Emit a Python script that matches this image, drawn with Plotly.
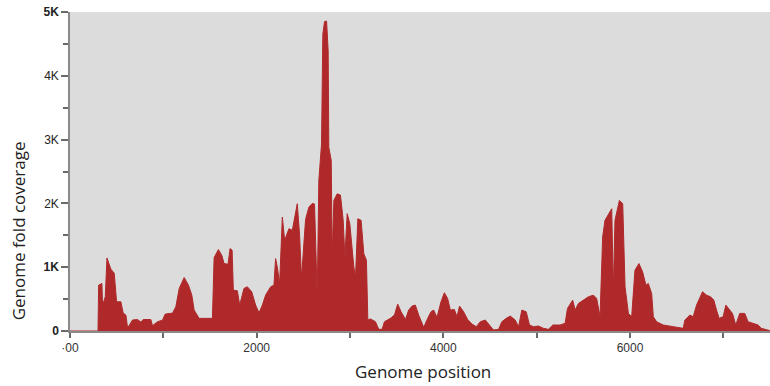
import plotly.graph_objects as go

# Genome position (nt) and fold coverage
position = [0, 300, 307, 342, 349, 378, 396, 438, 474, 499, 545, 570, 599, 617, 670, 724, 759, 784,
            866, 884, 938, 991, 1020, 1098, 1134, 1170, 1223, 1269, 1305, 1330, 1383, 1526, 1544,
            1590, 1626, 1651, 1693, 1715, 1737, 1750, 1793, 1818, 1864, 1900, 1947, 1989, 2025,
            2061, 2096, 2150, 2185, 2203, 2221, 2246, 2275, 2300, 2346, 2382, 2435, 2460, 2480,
            2524, 2560, 2596, 2620, 2638, 2649, 2666, 2695, 2709, 2727, 2749, 2766, 2773, 2799,
            2809, 2827, 2863, 2898, 2927, 2945, 2970, 2998, 3041, 3059, 3084, 3119, 3148, 3176,
            3191, 3219, 3273, 3308, 3344, 3369, 3433, 3476, 3511, 3547, 3594, 3629, 3665, 3700,
            3736, 3790, 3832, 3868, 3896, 3932, 3975, 4011, 4046, 4075, 4118, 4146, 4174, 4217,
            4260, 4307, 4353, 4396, 4449, 4503, 4538, 4592, 4627, 4674, 4717, 4770, 4806, 4841,
            4888, 4923, 4966, 5019, 5073, 5126, 5173, 5251, 5305, 5330, 5386, 5412, 5447, 5501,
            5554, 5608, 5643, 5679, 5707, 5732, 5779, 5804, 5822, 5839, 5886, 5922, 5947, 5983,
            6018, 6053, 6096, 6135, 6171, 6196, 6232, 6250, 6285, 6356, 6463, 6570, 6588, 6642,
            6677, 6713, 6777, 6820, 6863, 6898, 6927, 6955, 6998, 7027, 7069, 7098, 7133, 7176,
            7230, 7265, 7318, 7372, 7408, 7462, 7500]
coverage = [0, 0, 719, 745, 406, 536, 1145, 969, 906, 458, 458, 281, 250, 47, 172, 180, 140, 180,
            180, 83, 146, 170, 265, 280, 380, 667, 838, 720, 563, 328, 198, 198, 1151,
            1276, 1188, 1057, 1047, 1292, 1266, 641, 630, 406, 667, 693, 615, 406, 286,
            406, 563, 693, 719, 1135, 1005, 745, 1786, 1422, 1604, 1578, 1995, 1500, 830,
            1750, 1943, 2000, 1990, 1162, 536, 2359, 2932, 4651, 4849, 4859, 4390, 2880, 2672,
            1161, 2047, 2151, 2130, 1734, 1161, 1839, 1682, 1005, 849, 1760, 1734, 1213, 1109,
            172, 190, 146, 26, 26, 146, 198, 250, 422, 302, 182, 328, 391, 406,
            250, 57, 198, 302, 328, 213, 458, 599, 510, 328, 338, 224, 391, 302,
            182, 109, 68, 146, 172, 68, 16, 26, 146, 198, 234, 172, 68, 328,
            302, 94, 68, 78, 42, 26, 94, 94, 120, 354, 484, 328, 432, 484,
            536, 562, 510, 224, 1474, 1734, 1864, 1917, 641, 1734, 2047, 1995, 693, 276,
            224, 953, 1057, 927, 719, 745, 589, 224, 146, 94, 68, 42, 172, 250,
            224, 406, 615, 562, 536, 484, 328, 198, 224, 406, 328, 276, 94, 276,
            276, 146, 120, 94, 42, 16, 5]

x_tickvals = [0, 2000, 4000, 6000]
x_ticktext = ["·00", "2000", "4000", "6000"]
y_tickvals = [0, 1000, 2000, 3000, 4000, 5000]
y_ticktext = ["<b>0</b>", "<b>1K</b>", "2K", "3K", "4K", "<b>5K</b>"]

fill_color = "#b0292a"

fig = go.Figure()
fig.add_trace(go.Scatter(
    x=position, y=coverage, mode="lines", fill="tozeroy",
    line=dict(color=fill_color, width=1), fillcolor=fill_color,
    hoverinfo="x+y", showlegend=False,
))

fig.update_layout(
    width=770, height=386,
    margin=dict(l=70, r=0, t=12, b=55),
    paper_bgcolor="white",
    plot_bgcolor="#dcdcdc",
    font=dict(family="Open Sans, Arial, sans-serif", color="#222"),
    xaxis=dict(
        range=[0, 7500], tickvals=x_tickvals, ticktext=x_ticktext,
        showgrid=False, zeroline=False, showline=True, linecolor="#8a8a8a", linewidth=1.5,
        ticks="outside", ticklen=5, tickcolor="#6a6a6a", tickwidth=1.5,
        minor=dict(ticks="outside", dtick=1000, tick0=0, ticklen=5, tickcolor="#6a6a6a", tickwidth=1.5),
        tickfont=dict(family="Arial, sans-serif", size=12, color="#333"),
    ),
    yaxis=dict(
        range=[0, 5000], tickvals=y_tickvals, ticktext=y_ticktext,
        showgrid=False, zeroline=False, showline=True, linecolor="#8a8a8a", linewidth=1.5,
        ticks="outside", ticklen=7, tickcolor="#6a6a6a", tickwidth=1.5,
        minor=dict(ticks="outside", dtick=500, tick0=0, ticklen=5, tickcolor="#6a6a6a", tickwidth=1.5),
        tickfont=dict(family="Arial, sans-serif", size=12, color="#222"),
    ),
    annotations=[
        dict(text="Genome position", xref="paper", yref="paper", x=0.504, y=-0.128,
             xanchor="center", yanchor="middle", showarrow=False,
             font=dict(family="Open Sans, Arial, sans-serif", size=17, color="#222")),
        dict(text="Genome fold coverage", xref="paper", yref="paper", x=-0.074, y=0.313,
             xanchor="center", yanchor="middle", textangle=-90, showarrow=False,
             font=dict(family="Open Sans, Arial, sans-serif", size=17, color="#222")),
    ],
)

fig.write_html(
    "out.html",
    config={"displayModeBar": False},
    post_script="document.body.style.margin='0';document.body.style.overflow='hidden';",
)
